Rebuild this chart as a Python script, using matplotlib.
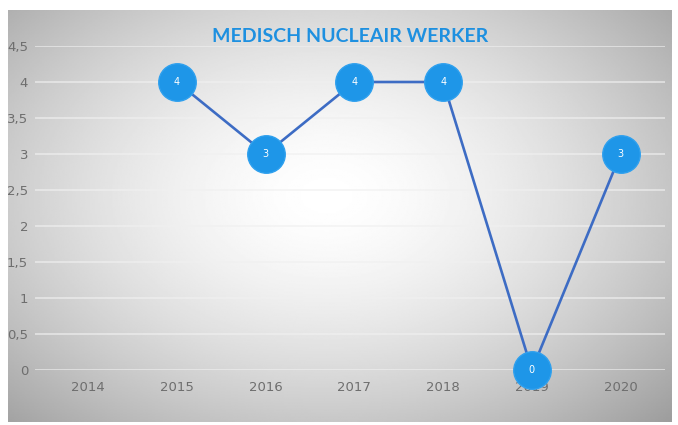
import numpy as np
import matplotlib.pyplot as plt

years = ['2014', '2015', '2016', '2017', '2018', '2019', '2020']
counts = [np.nan, 4, 3, 4, 4, 0, 3]
yticks = [0, 0.5, 1, 1.5, 2, 2.5, 3, 3.5, 4, 4.5]
ytick_labels = ['0', '0,5', '1', '1,5', '2', '2,5', '3', '3,5', '4', '4,5']

W, H = 678, 425
fig = plt.figure(figsize=(W / 100, H / 100), dpi=100)
fig.patch.set_facecolor('white')

# radial gradient background box
bg = fig.add_axes([8 / W, 1 - 422 / H, 664 / W, 412 / H])
gx, gy = np.meshgrid(np.linspace(0, 1, 400), np.linspace(0, 1, 300))
r = np.sqrt(((gx - 0.48) / 0.72) ** 2 + ((gy - 0.45) / 0.78) ** 2)
val = np.clip(1 - 0.38 * np.clip(r, 0, 1.2) ** 1.6, 0, 1)
bg.imshow(val, cmap='gray', vmin=0, vmax=1, aspect='auto', extent=[0, 1, 0, 1])
bg.axis('off')

ax = fig.add_axes([35 / W, 1 - 370 / H, 630 / W, 324 / H])
ax.patch.set_alpha(0)
x = np.arange(len(years))
ax.plot(x, counts, color='#3D6CC4', lw=1.9, marker='o', ms=27,
        mfc='#1E96E8', mec='#2FA0EE', mew=1, clip_on=False, zorder=3)
for xi, v in zip(x, counts):
    if not np.isnan(v):
        ax.text(xi, v, str(int(v)), color='white', fontsize=7,
                ha='center', va='center', zorder=4)

ax.set_xlim(-0.6, 6.5)
ax.set_ylim(0, 4.5)
ax.set_yticks(yticks)
ax.set_yticklabels(ytick_labels)
ax.set_xticks(x)
ax.set_xticklabels(years)
ax.grid(axis='y', color='#f0f0f0', lw=1.1, alpha=0.8)
ax.set_axisbelow(True)
for s in ax.spines.values():
    s.set_visible(False)
ax.tick_params(length=0, colors='#6e6e6e', labelsize=9.5)
ax.tick_params(axis='y', pad=5)
ax.tick_params(axis='x', pad=8)

fig.text(350 / W, 1 - 37 / H, 'MEDISCH NUCLEAIR WERKER', color='#1E90E0',
         fontsize=14, fontweight='bold', family='Lato', ha='center', va='center')

fig.savefig('out.png', dpi=100)
